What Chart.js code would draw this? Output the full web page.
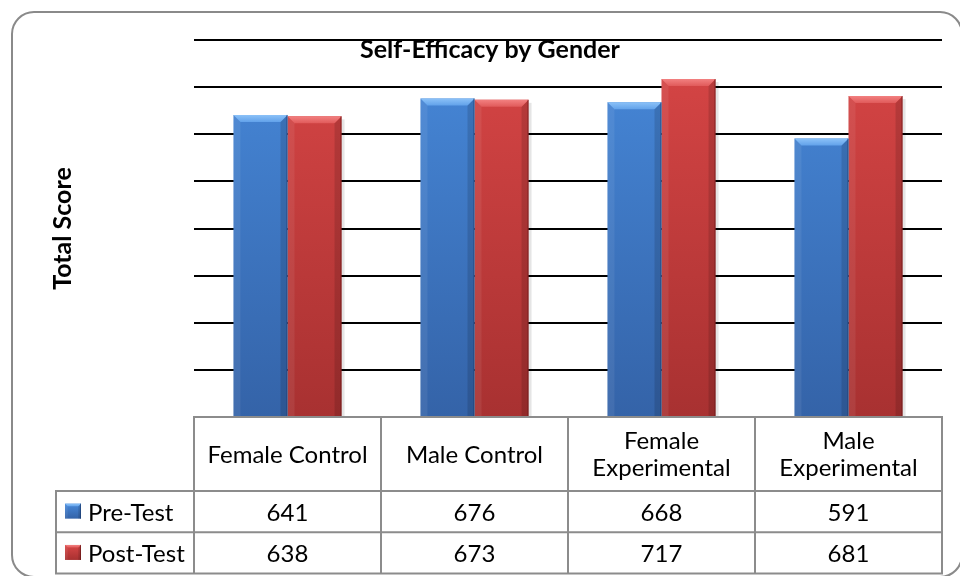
<!DOCTYPE html>
<html>
<head>
<meta charset="utf-8">
<script src="https://cdn.jsdelivr.net/npm/chart.js@4.4.1/dist/chart.umd.min.js"></script>
<style>
  html, body { margin: 0; padding: 0; background: #ffffff; }
  #wrap { width: 960px; height: 576px; position: relative; }
</style>
</head>
<body>
<div id="wrap"><canvas id="chart" width="960" height="576"></canvas></div>
<script>
// Groups (multi-line where the table header wraps)
const categories = [['Female Control'], ['Male Control'], ['Female', 'Experimental'], ['Male', 'Experimental']];
const seriesNames = ['Pre-Test', 'Post-Test'];
const preTest = [641, 676, 668, 591];
const postTest = [638, 673, 717, 681];
// Value axis: gridlines every 100 from 0 to 800 (labels hidden)
const yMin = 0;
const yMax = 800;
const yStep = 100;

const FONT = "Lato, 'Open Sans', sans-serif";

// Face / bevel colours for each series
const palette = [
  { top: '#4789da', bottom: '#3463a8', capLight: '#8cc2f8', cap: '#62a2ea', edge: 'rgba(20,50,100,0.55)' },
  { top: '#d84646', bottom: '#a83131', capLight: '#f28080', cap: '#e05a5a', edge: 'rgba(90,15,15,0.55)' }
];

function faceGradient(i) {
  return (ctx) => {
    const chart = ctx.chart;
    const ca = chart.chartArea;
    if (!ca) return palette[i].top;
    const g = chart.ctx.createLinearGradient(0, ca.top, 0, ca.bottom);
    g.addColorStop(0, palette[i].top);
    g.addColorStop(1, palette[i].bottom);
    return g;
  };
}

// Draws the chiselled top and side facets on a bar rectangle
function drawBevel(ctx, l, t, w, h, pal) {
  const b = Math.max(1, Math.min(7, w / 6, h / 2));
  const r = l + w, btm = t + h;
  ctx.save();
  // right facet (shaded)
  ctx.beginPath();
  ctx.moveTo(r, t); ctx.lineTo(r - b, t + b); ctx.lineTo(r - b, btm); ctx.lineTo(r, btm); ctx.closePath();
  ctx.fillStyle = 'rgba(0,0,0,0.13)';
  ctx.fill();
  // left facet (lit)
  ctx.beginPath();
  ctx.moveTo(l, t); ctx.lineTo(l + b, t + b); ctx.lineTo(l + b, btm); ctx.lineTo(l, btm); ctx.closePath();
  ctx.fillStyle = 'rgba(255,255,255,0.07)';
  ctx.fill();
  // top facet
  const g = ctx.createLinearGradient(0, t, 0, t + b);
  g.addColorStop(0, pal.capLight);
  g.addColorStop(1, pal.cap);
  ctx.beginPath();
  ctx.moveTo(l, t); ctx.lineTo(r, t); ctx.lineTo(r - b, t + b); ctx.lineTo(l + b, t + b); ctx.closePath();
  ctx.fillStyle = g;
  ctx.fill();
  // dark outline on the right edge
  ctx.strokeStyle = pal.edge;
  ctx.lineWidth = 1;
  ctx.beginPath();
  ctx.moveTo(r - 0.5, t); ctx.lineTo(r - 0.5, btm);
  ctx.stroke();
  ctx.restore();
}

const barShading = {
  id: 'barShading',
  beforeDatasetsDraw(chart) {
    const ctx = chart.ctx;
    ctx.save();
    chart.data.datasets.forEach((ds, di) => {
      chart.getDatasetMeta(di).data.forEach((bar) => {
        const { x, y, width, base } = bar.getProps(['x', 'y', 'width', 'base'], true);
        ctx.fillStyle = 'rgba(0,0,0,0.10)';
        ctx.fillRect(x + width / 2, y + 3, 3, base - y - 3);
      });
    });
    ctx.restore();
  },
  afterDatasetsDraw(chart) {
    const ctx = chart.ctx;
    chart.data.datasets.forEach((ds, di) => {
      chart.getDatasetMeta(di).data.forEach((bar) => {
        const { x, y, width, base } = bar.getProps(['x', 'y', 'width', 'base'], true);
        drawBevel(ctx, x - width / 2, y, width, base - y, palette[di]);
      });
    });
  }
};

// Rounded outer frame (its right and bottom edges sit just past the canvas)
const frame = {
  id: 'frame',
  afterDraw(chart) {
    const ctx = chart.ctx;
    ctx.save();
    ctx.strokeStyle = '#8a8a8a';
    ctx.lineWidth = 2;
    ctx.beginPath();
    ctx.roundRect(12, 12, 950, 565, 22);
    ctx.stroke();
    ctx.restore();
  }
};

// Data table under the plot, columns aligned to the category bands
const dataTable = {
  id: 'dataTable',
  afterDraw(chart) {
    const ctx = chart.ctx;
    const xs = chart.scales.x;
    const n = chart.data.labels.length;
    const half = (xs.getPixelForValue(1) - xs.getPixelForValue(0)) / 2;
    const colL = xs.getPixelForValue(0) - half;
    const colR = xs.getPixelForValue(n - 1) + half;
    const top = chart.chartArea.bottom;
    const headBottom = 491;
    const rowH = 41.3;
    const labelL = 56;

    ctx.save();
    ctx.strokeStyle = '#8c8c8c';
    ctx.lineWidth = 2;
    ctx.fillStyle = '#ffffff';
    ctx.fillRect(colL, top, colR - colL, headBottom + 2 * rowH - top);
    ctx.fillRect(labelL, headBottom, colL - labelL, 2 * rowH);
    ctx.beginPath();
    // header row
    ctx.rect(colL, top, colR - colL, headBottom - top);
    // value rows
    for (let r = 0; r < 2; r++) ctx.rect(labelL, headBottom + r * rowH, colR - labelL, rowH);
    // column dividers
    for (let i = 0; i <= n; i++) {
      const xx = colL + i * 2 * half;
      ctx.moveTo(xx, top); ctx.lineTo(xx, headBottom + 2 * rowH);
    }
    ctx.stroke();

    ctx.fillStyle = '#000000';
    ctx.font = `24px ${FONT}`;
    ctx.textAlign = 'center';
    ctx.textBaseline = 'alphabetic';
    chart.data.labels.forEach((lab, i) => {
      const cx = xs.getPixelForValue(i);
      const lines = Array.isArray(lab) ? lab : [lab];
      const lh = 27.5;
      const mid = (top + headBottom) / 2;
      const first = mid + 8.5 - (lines.length - 1) * lh / 2;
      lines.forEach((ln, k) => ctx.fillText(ln, cx, first + k * lh));
    });
    chart.data.datasets.forEach((ds, di) => {
      const base = headBottom + di * rowH + rowH / 2 + 9;
      ds.data.forEach((v, i) => ctx.fillText(String(v), xs.getPixelForValue(i), base));
      // legend key
      const ky = headBottom + di * rowH + rowH / 2 - 8;
      const kg = ctx.createLinearGradient(0, ky, 0, ky + 15);
      kg.addColorStop(0, palette[di].top);
      kg.addColorStop(1, palette[di].bottom);
      ctx.fillStyle = kg;
      ctx.fillRect(65, ky, 16, 15);
      drawBevel(ctx, 65, ky, 16, 15, palette[di]);
      ctx.fillStyle = '#000000';
      ctx.textAlign = 'left';
      ctx.fillText(ds.label, 88, base);
      ctx.textAlign = 'center';
    });
    ctx.restore();
  }
};

new Chart(document.getElementById('chart'), {
  type: 'bar',
  data: {
    labels: categories,
    datasets: [
      { label: seriesNames[0], data: preTest, backgroundColor: faceGradient(0), borderWidth: 0 },
      { label: seriesNames[1], data: postTest, backgroundColor: faceGradient(1), borderWidth: 0 }
    ]
  },
  options: {
    responsive: false,
    animation: false,
    devicePixelRatio: 1,
    categoryPercentage: 0.578,
    barPercentage: 1,
    layout: { padding: { left: 38, right: 18, top: 0, bottom: 159 } },
    plugins: {
      legend: { display: false },
      tooltip: { enabled: false },
      title: {
        display: true,
        text: 'Self-Efficacy by Gender',
        color: '#000000',
        font: { family: FONT, size: 25, weight: 'bold', lineHeight: 1.2 },
        padding: { top: 35, bottom: -25 }
      }
    },
    scales: {
      x: { display: false },
      y: {
        min: yMin,
        max: yMax,
        ticks: { stepSize: yStep, display: false },
        grid: {
          drawTicks: false,
          lineWidth: 2,
          color: (c) => (c.tick && c.tick.value === yMin ? 'rgba(0,0,0,0)' : '#000000')
        },
        border: { display: false },
        title: {
          display: true,
          text: 'Total Score',
          color: '#000000',
          font: { family: FONT, size: 25, weight: 'bold', lineHeight: 1.2 },
          padding: { top: 9.5, bottom: 0 }
        },
        afterFit(scale) { scale.width = 156; }
      }
    }
  },
  plugins: [barShading, dataTable, frame]
});
</script>
</body>
</html>
